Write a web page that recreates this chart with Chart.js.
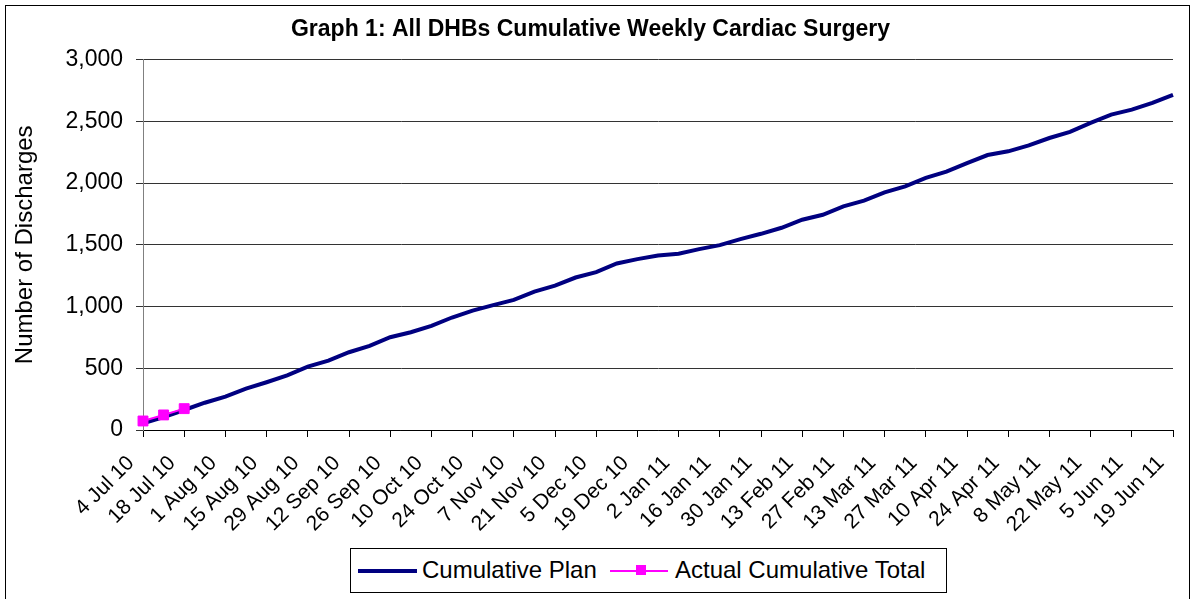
<!DOCTYPE html>
<html>
<head>
<meta charset="utf-8">
<title>Graph 1: All DHBs Cumulative Weekly Cardiac Surgery</title>
<script src="https://cdn.jsdelivr.net/npm/chart.js@4.4.1/dist/chart.umd.min.js"></script>
<style>
  body { margin: 0; background: #fff; font-family: "Liberation Sans", Arial, sans-serif; }
  #frame { position: absolute; left: 5px; top: 5px; width: 1185px; height: 600px; border: 1px solid #000; box-sizing: border-box; }
  #wrap { position: absolute; left: 0; top: 0; width: 1191px; height: 599px; }
  #legend { position: absolute; left: 350px; top: 548px; width: 597px; height: 45px; border: 1px solid #000; box-sizing: border-box; background: #fff; font-size: 24px; color: #000; }
  #legend .sw { position: absolute; top: 21px; height: 0; }
  #legend .txt { position: absolute; top: 8px; line-height: 26px; white-space: nowrap; }
  #legend .mk { position: absolute; width: 10px; height: 10px; background: #ff00ff; top: 16px; }
</style>
</head>
<body>
<div id="frame"></div>
<div id="wrap"><canvas id="cardiacChart"></canvas></div>
<div id="legend">
  <div class="sw" style="left:7px;width:59px;border-top:4px solid #000080;top:20px"></div>
  <div class="txt" style="left:71px">Cumulative Plan</div>
  <div class="sw" style="left:259px;width:58px;border-top:2px solid #ff00ff"></div>
  <div class="mk" style="left:285px"></div>
  <div class="txt" style="left:324px">Actual Cumulative Total</div>
</div>
<script>
// Week starting dates (weekly categories)
const weekLabels = [
  '4 Jul 10', '11 Jul 10', '18 Jul 10', '25 Jul 10', '1 Aug 10', '8 Aug 10', '15 Aug 10', '22 Aug 10',
  '29 Aug 10', '5 Sep 10', '12 Sep 10', '19 Sep 10', '26 Sep 10', '3 Oct 10', '10 Oct 10', '17 Oct 10',
  '24 Oct 10', '31 Oct 10', '7 Nov 10', '14 Nov 10', '21 Nov 10', '28 Nov 10', '5 Dec 10', '12 Dec 10',
  '19 Dec 10', '26 Dec 10', '2 Jan 11', '9 Jan 11', '16 Jan 11', '23 Jan 11', '30 Jan 11', '6 Feb 11',
  '13 Feb 11', '20 Feb 11', '27 Feb 11', '6 Mar 11', '13 Mar 11', '20 Mar 11', '27 Mar 11', '3 Apr 11',
  '10 Apr 11', '17 Apr 11', '24 Apr 11', '1 May 11', '8 May 11', '15 May 11', '22 May 11', '29 May 11',
  '5 Jun 11', '12 Jun 11', '19 Jun 11'
];

// Cumulative plan (discharges)
const cumulativePlan = [
  55, 105, 162, 221, 270, 335, 387, 443, 513, 562, 630, 681, 751, 792, 843, 911, 967,
  1011, 1054, 1121, 1170, 1235, 1278, 1349, 1384, 1414, 1427, 1465, 1497, 1546, 1589, 1638,
  1703, 1743, 1811, 1857, 1924, 1973, 2042, 2092, 2162, 2227, 2257, 2305, 2365, 2414, 2487,
  2554, 2595, 2649, 2714
];

// Actual cumulative total (first three weeks reported)
const actualTotal = [73, 122, 173];

// Y axis ticks
const yMin = 0;
const yMax = 3000;
const yStep = 500;

const FONT = '"Liberation Sans", Arial, sans-serif';

document.addEventListener('DOMContentLoaded', () => {
  const ctx = document.getElementById('cardiacChart').getContext('2d');

  new Chart(ctx, {
    type: 'line',
    data: {
      labels: weekLabels,
      datasets: [
        {
          label: 'Cumulative Plan',
          data: cumulativePlan,
          borderColor: '#000080',
          borderWidth: 4,
          pointRadius: 0,
          tension: 0,
          order: 2
        },
        {
          label: 'Actual Cumulative Total',
          data: actualTotal,
          borderColor: '#ff00ff',
          backgroundColor: '#ff00ff',
          borderWidth: 2,
          pointStyle: 'rect',
          pointRadius: 7,
          pointBorderWidth: 1,
          tension: 0,
          order: 1
        }
      ]
    },
    options: {
      responsive: true,
      maintainAspectRatio: false,
      animation: false,
      layout: { padding: { left: 8, right: 18, top: 0, bottom: 0 } },
      plugins: {
        legend: { display: false },
        tooltip: { enabled: false },
        title: {
          display: true,
          text: 'Graph 1: All DHBs Cumulative Weekly Cardiac Surgery',
          color: '#000',
          font: { family: FONT, size: 23, weight: 'bold' },
          padding: { top: 16, bottom: 16 }
        }
      },
      scales: {
        x: {
          offset: false,
          grid: {
            drawOnChartArea: false,
            drawTicks: true,
            tickLength: 7,
            tickColor: (c) => (c.index % 2 === 0 ? '#000' : 'rgba(0,0,0,0)')
          },
          border: { color: '#000', width: 1 },
          ticks: {
            autoSkip: false,
            minRotation: 45,
            maxRotation: 45,
            padding: 14,
            labelOffset: -12,
            color: '#000',
            font: { family: FONT, size: 21 },
            callback: function (val, i) { return i % 2 === 0 ? this.getLabelForValue(val) : ''; }
          },
          afterFit: (scale) => {
            scale.height = 169;
            scale.paddingRight = 0;
          }
        },
        y: {
          min: yMin,
          max: yMax,
          grid: { color: '#333', lineWidth: 1, drawTicks: true, tickLength: 7, tickColor: '#333' },
          border: { color: '#808080', width: 1 },
          ticks: {
            stepSize: yStep,
            padding: 13,
            color: '#000',
            font: { family: FONT, size: 23 },
            callback: (v) => v.toLocaleString('en-US')
          },
          title: {
            display: true,
            text: 'Number of Discharges',
            color: '#000',
            font: { family: FONT, size: 24 },
            padding: { top: 3, bottom: 4 }
          },
          afterFit: (scale) => { scale.width = 135; }
        }
      }
    }
  });
});
</script>
</body>
</html>
